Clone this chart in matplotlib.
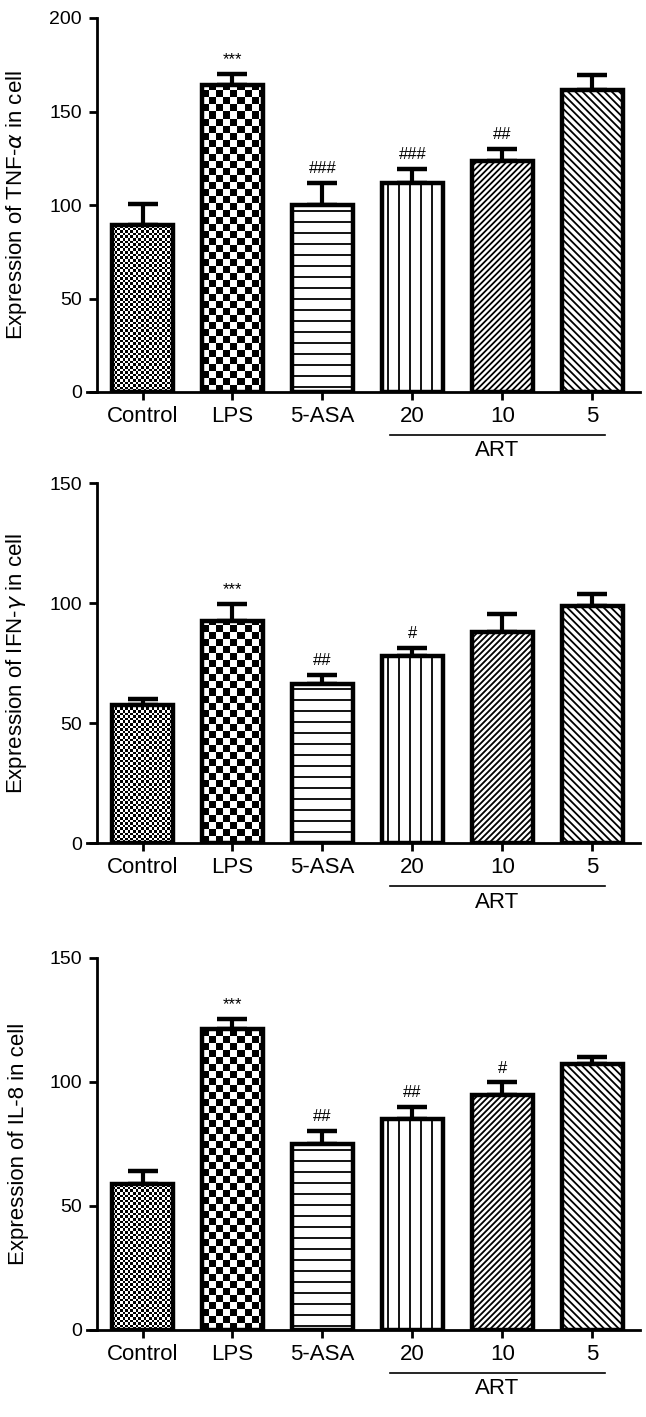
import numpy as np
import matplotlib
matplotlib.use("Agg")
import matplotlib.pyplot as plt
from matplotlib.collections import LineCollection
from matplotlib.transforms import IdentityTransform, blended_transform_factory, ScaledTranslation
from matplotlib.lines import Line2D

plt.rcParams['font.family'] = ['Liberation Sans', 'DejaVu Sans']
plt.rcParams['mathtext.fontset'] = 'dejavusans'

# ---------------- data ----------------
categories = ["Control", "LPS", "5-ASA", "20", "10", "5"]
group_label = "ART"

tnf_mean = [89.5, 164.4, 99.8, 111.8, 123.7, 161.7]
tnf_err = [11.0, 5.6, 12.0, 7.5, 6.3, 8.0]
tnf_marks = ["", "***", "###", "###", "##", ""]

ifn_mean = [57.3, 92.6, 66.3, 78.1, 87.8, 98.8]
ifn_err = [2.9, 6.8, 3.6, 3.1, 7.8, 4.8]
ifn_marks = ["", "***", "##", "#", "", ""]

il8_mean = [58.8, 121.2, 74.9, 85.1, 94.6, 107.1]
il8_err = [5.5, 4.1, 5.2, 4.8, 5.2, 3.0]
il8_marks = ["", "***", "##", "##", "#", ""]

panels = [
    (tnf_mean, tnf_err, tnf_marks, r"Expression of TNF-$\alpha$ in cell", 200, [0, 50, 100, 150, 200]),
    (ifn_mean, ifn_err, ifn_marks, r"Expression of IFN-$\gamma$ in cell", 150, [0, 50, 100, 150]),
    (il8_mean, il8_err, il8_marks, "Expression of IL-8 in cell", 150, [0, 50, 100, 150]),
]

# ---------------- layout ----------------
W, H = 646, 1417
DPI = 100
fig = plt.figure(figsize=(W / DPI, H / DPI), dpi=DPI)

ax_left_px, ax_right_px = 87, 640
rects_px = [(18, 392), (483, 843), (958, 1330)]  # (top, bottom) pixel rows

XL, XR = -0.617, 5.53
YSPINE = -0.506
BAR_W = 0.68

textures = ["checker_fine", "checker_big", "hlines", "vlines", "diag_up", "diag_down"]


def bar_px(ax, b):
    x0, y0 = ax.transData.transform((b.get_x(), 0))
    x1, y1 = ax.transData.transform((b.get_x() + b.get_width(), b.get_height()))
    return x0, y0, x1, y1


def add_lines(ax, b, kind, spacing, lw):
    x0, y0, x1, y1 = bar_px(ax, b)
    segs = []
    if kind == "h":
        for y in np.arange(y1 - spacing * 0.5, y0, -spacing):
            segs.append([(x0, y), (x1, y)])
    elif kind == "v":
        for x in np.arange(x0 + spacing * 0.55, x1, spacing):
            segs.append([(x, y0), (x, y1)])
    else:
        hgt = y1 - y0
        wid = x1 - x0
        L = hgt + wid
        if kind == "up":
            for c in np.arange(x0 - hgt - spacing, x1 + spacing, spacing):
                segs.append([(c, y0), (c + L, y0 + L)])
        else:
            for c in np.arange(x0 - spacing, x1 + hgt + spacing, spacing):
                segs.append([(c, y0), (c - L, y0 + L)])
    lc = LineCollection(segs, colors="black", linewidths=lw, transform=IdentityTransform(), zorder=2.5)
    ax.add_collection(lc, autolim=False)
    lc.set_clip_path(b)


def add_checker(ax, b, cell_px):
    x0, y0, x1, y1 = bar_px(ax, b)
    ncol = int(np.ceil((x1 - x0) / cell_px)) + 1
    nrow = int(np.ceil((y1 - y0) / cell_px)) + 1
    ii, jj = np.indices((nrow, ncol))
    arr = ((ii + jj) % 2).astype(float)
    dx = cell_px * ncol
    dy = cell_px * nrow
    inv = ax.transData.inverted()
    (ex0, ey0) = inv.transform((x0, y0))
    (ex1, ey1) = inv.transform((x0 + dx, y0 + dy))
    im = ax.imshow(arr, extent=(ex0, ex1, ey0, ey1), origin="lower", cmap="gray",
                   interpolation="nearest", aspect="auto", zorder=2.5, vmin=0, vmax=1)
    im.set_clip_path(b)


for (means, errs, marks, ylabel, ymax, yticks), (top, bot) in zip(panels, rects_px):
    ax = fig.add_axes([ax_left_px / W, 1 - bot / H, (ax_right_px - ax_left_px) / W, (bot - top) / H])
    x = np.arange(len(categories))
    ax.set_xlim(XL, XR)
    ax.set_ylim(0, ymax)

    ax.errorbar(x, means, yerr=[np.zeros(len(errs)), errs], fmt="none", ecolor="black",
                elinewidth=3, capsize=10.5, capthick=3.2, zorder=1)
    bars = ax.bar(x, means, width=BAR_W, color="white", edgecolor="none", zorder=2)
    ax.bar(x, means, width=BAR_W, fill=False, edgecolor="black", linewidth=3.2, zorder=3)

    ax.set_xlim(XL, XR)
    ax.set_ylim(0, ymax)

    for b, tex in zip(bars, textures):
        if tex == "checker_fine":
            add_checker(ax, b, 2.6)
        elif tex == "checker_big":
            add_checker(ax, b, 7.0)
        elif tex == "hlines":
            add_lines(ax, b, "h", 11.0, 1.3)
        elif tex == "vlines":
            add_lines(ax, b, "v", 11.0, 1.3)
        elif tex == "diag_up":
            add_lines(ax, b, "up", 6.0, 1.3)
        elif tex == "diag_down":
            add_lines(ax, b, "down", 7.3, 1.3)

    ax.set_xlim(XL, XR)
    ax.set_ylim(0, ymax)

    for xi, m, e, t in zip(x, means, errs, marks):
        if t:
            ax.annotate(t, (xi, m + e), xytext=(0, 5), textcoords="offset points",
                        ha="center", va="bottom", fontsize=12, zorder=4)

    for s in ("top", "right"):
        ax.spines[s].set_visible(False)
    ax.spines["left"].set_position(("data", YSPINE))
    ax.spines["left"].set_linewidth(2.0)
    ax.spines["bottom"].set_linewidth(2.0)

    ax.set_yticks(yticks)
    ax.set_yticklabels([str(v) for v in yticks], fontsize=14)
    ax.set_xticks(x)
    ax.set_xticklabels(categories, fontsize=16)
    ax.tick_params(axis="both", direction="out", width=2.0, length=6, color="black")
    ax.tick_params(axis="y", pad=5)
    ax.tick_params(axis="x", pad=4)

    ax.set_ylabel(ylabel, fontsize=16)
    ax.yaxis.set_label_coords(-0.104, 0.5)

    lx0, lx1 = 2.75, 5.14
    trans_line = blended_transform_factory(ax.transData, ax.transAxes) + ScaledTranslation(0, -43 / DPI, fig.dpi_scale_trans)
    ax.add_line(Line2D([lx0, lx1], [0, 0], transform=trans_line, color="black", linewidth=1.2, clip_on=False))
    trans_txt = blended_transform_factory(ax.transData, ax.transAxes) + ScaledTranslation(0, -59 / DPI, fig.dpi_scale_trans)
    ax.text((lx0 + lx1) / 2, 0, group_label, transform=trans_txt, ha="center", va="center", fontsize=16)

fig.savefig("out.png", dpi=DPI)
